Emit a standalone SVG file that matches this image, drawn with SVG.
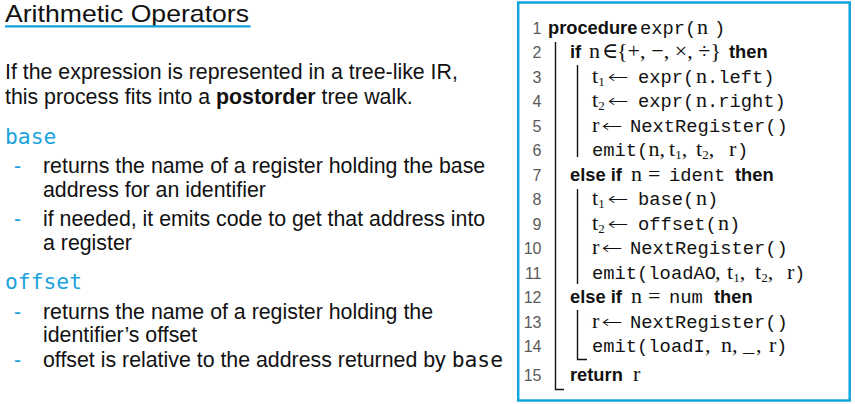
<svg xmlns="http://www.w3.org/2000/svg" width="855" height="404" viewBox="0 0 855 404">
<style>
.sans{font-family:"Liberation Sans",Arial,sans-serif;fill:#111}
.body{font-size:21.33px}
.mono{font-family:"DejaVu Sans Mono","Liberation Mono",monospace}
.blue{fill:#1aa3dd}
.ln{font-family:"Liberation Sans",Arial,sans-serif;font-size:16px;fill:#5a5a5a;text-anchor:end}
.kw{font-family:"Liberation Sans",Arial,sans-serif;font-size:18.3px;font-weight:bold;fill:#111}
.tt{font-family:"Liberation Mono","DejaVu Sans Mono",monospace;font-size:18.8px;fill:#111}
.m{font-family:"Liberation Serif","DejaVu Serif",serif;font-size:22px;fill:#111}
.ar{font-family:"DejaVu Sans",sans-serif;font-size:18px;font-weight:200;fill:#111}
.sub{font-size:13px}
.bar{stroke:#111;stroke-width:1.4;fill:none}
</style>
<g id="left">
<text class="sans" x="5" y="21.7" font-size="24" textLength="244" lengthAdjust="spacingAndGlyphs">Arithmetic Operators</text>
<line x1="5" y1="26.3" x2="250.5" y2="26.3" stroke="#0fa0dc" stroke-width="2.2"/>
<text class="sans body" x="5" y="79">If the expression is represented in a tree-like IR,</text>
<text class="sans body" x="5" y="104">this process fits into a <tspan font-weight="bold">postorder</tspan> tree walk.</text>
<text class="mono body blue" x="5" y="143.5">base</text>
<text class="sans body blue" x="14" y="173">-</text>
<text class="sans body" x="43" y="173">returns the name of a register holding the base</text>
<text class="sans body" x="43" y="197">address for an identifier</text>
<text class="sans body blue" x="14" y="225.5">-</text>
<text class="sans body" x="43" y="225.5">if needed, it emits code to get that address into</text>
<text class="sans body" x="43" y="249.5">a register</text>
<text class="mono body blue" x="5" y="288.5">offset</text>
<text class="sans body blue" x="14" y="318.5">-</text>
<text class="sans body" x="43" y="318.5">returns the name of a register holding the</text>
<text class="sans body" x="43" y="342">identifier’s offset</text>
<text class="sans body blue" x="14" y="366.5">-</text>
<text class="sans body" x="43" y="366.5">offset is relative to the address returned by <tspan class="mono">base</tspan></text>
</g>
<g id="algorithm">
<rect x="518.2" y="2.5" width="331.5" height="398" fill="#fff" stroke="#12a4dc" stroke-width="2.5"/>
<g id="guides">
<path class="bar" d="M555.5 42V389.5H564"/>
<path class="bar" d="M577.5 65V157"/>
<path class="bar" d="M577.5 189V284"/>
<path class="bar" d="M577.5 310V359.5H587"/>
</g>
<g id="l1"><text class="ln" x="541.5" y="33.5">1</text><text class="kw" x="548" y="33.5">procedure</text><text class="tt" x="640" y="33.5">expr(</text><text class="m" x="697" y="33.5">n</text><text class="tt" x="714" y="33.5">)</text></g>
<g id="l2"><text class="ln" x="541.5" y="58">2</text><text class="kw" x="570" y="58">if</text><text class="m" x="589" y="58" font-size="20">n</text><text class="m" x="602" y="58" font-size="18">∈</text><text class="m" x="617" y="58" font-size="20.5" textLength="104" lengthAdjust="spacing">{+, −, ×, ÷}</text><text class="kw" x="729" y="58">then</text></g>
<g id="l3"><text class="ln" x="541.5" y="82.5">3</text><text class="m" x="592" y="82.5">t<tspan class="sub" dy="3">1</tspan></text><text class="ar" transform="translate(607.5 82.5) scale(1.4 1)">←</text><text class="tt" x="638" y="82.5">expr(</text><text class="m" x="696" y="82.5">n</text><text class="tt" x="707" y="82.5">.left)</text></g>
<g id="l4"><text class="ln" x="541.5" y="107">4</text><text class="m" x="592" y="107">t<tspan class="sub" dy="3">2</tspan></text><text class="ar" transform="translate(607.5 107) scale(1.4 1)">←</text><text class="tt" x="638" y="107">expr(</text><text class="m" x="696" y="107">n</text><text class="tt" x="707" y="107">.right)</text></g>
<g id="l5"><text class="ln" x="541.5" y="131.5">5</text><text class="m" x="592" y="131.5">r</text><text class="ar" transform="translate(601.5 131.5) scale(1.4 1)">←</text><text class="tt" x="630" y="131.5">NextRegister()</text></g>
<g id="l6"><text class="ln" x="541.5" y="156">6</text><text class="tt" x="592" y="156">emit(</text><text class="m" x="648.5" y="156">n,</text><text class="m" x="669" y="156">t<tspan class="sub" dy="3">1</tspan><tspan dy="-3">,</tspan></text><text class="m" x="696" y="156">t<tspan class="sub" dy="3">2</tspan><tspan dy="-3">,</tspan></text><text class="m" x="729" y="156">r</text><text class="tt" x="737" y="156">)</text></g>
<g id="l7"><text class="ln" x="541.5" y="180.5">7</text><text class="kw" x="570" y="180.5">else if</text><text class="m" x="631" y="180.5">n</text><text class="m" x="648" y="180.5">=</text><text class="tt" x="669" y="180.5">ident</text><text class="kw" x="735" y="180.5">then</text></g>
<g id="l8"><text class="ln" x="541.5" y="205">8</text><text class="m" x="592" y="205">t<tspan class="sub" dy="3">1</tspan></text><text class="ar" transform="translate(607.5 205) scale(1.4 1)">←</text><text class="tt" x="638" y="205">base(</text><text class="m" x="696" y="205">n</text><text class="tt" x="707" y="205">)</text></g>
<g id="l9"><text class="ln" x="541.5" y="229.5">9</text><text class="m" x="592" y="229.5">t<tspan class="sub" dy="3">2</tspan></text><text class="ar" transform="translate(607.5 229.5) scale(1.4 1)">←</text><text class="tt" x="638" y="229.5">offset(</text><text class="m" x="718" y="229.5">n</text><text class="tt" x="729" y="229.5">)</text></g>
<g id="l10"><text class="ln" x="541.5" y="254">10</text><text class="m" x="592" y="254">r</text><text class="ar" transform="translate(601.5 254) scale(1.4 1)">←</text><text class="tt" x="630" y="254">NextRegister()</text></g>
<g id="l11"><text class="ln" x="541.5" y="278.5">11</text><text class="tt" x="592" y="278.5">emit(loadAO</text><text class="m" x="715" y="278.5">,</text><text class="m" x="727" y="278.5">t<tspan class="sub" dy="3">1</tspan><tspan dy="-3">,</tspan></text><text class="m" x="755" y="278.5">t<tspan class="sub" dy="3">2</tspan><tspan dy="-3">,</tspan></text><text class="m" x="787" y="278.5">r</text><text class="tt" x="794" y="278.5">)</text></g>
<g id="l12"><text class="ln" x="541.5" y="303">12</text><text class="kw" x="570" y="303">else if</text><text class="m" x="631" y="303">n</text><text class="m" x="648" y="303">=</text><text class="tt" x="669" y="303">num</text><text class="kw" x="714" y="303">then</text></g>
<g id="l13"><text class="ln" x="541.5" y="327.5">13</text><text class="m" x="592" y="327.5">r</text><text class="ar" transform="translate(601.5 327.5) scale(1.4 1)">←</text><text class="tt" x="630" y="327.5">NextRegister()</text></g>
<g id="l14"><text class="ln" x="541.5" y="352">14</text><text class="tt" x="592" y="352">emit(loadI</text><text class="m" x="705" y="352">,</text><text class="m" x="721" y="352">n,</text><text class="tt" x="743" y="352">_</text><text class="m" x="756" y="352">,</text><text class="m" x="769" y="352">r</text><text class="tt" x="776" y="352">)</text></g>
<g id="l15"><text class="ln" x="541.5" y="381">15</text><text class="kw" x="570" y="381">return</text><text class="m" x="633" y="381">r</text></g>
</g>
</svg>
